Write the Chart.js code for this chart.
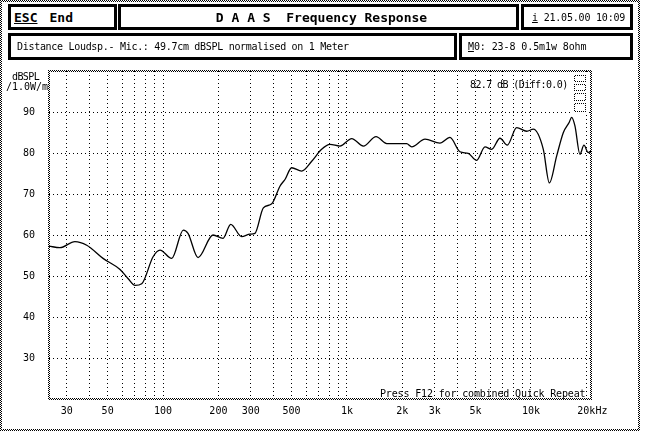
<!DOCTYPE html>
<html>
<head>
<meta charset="utf-8">
<script src="https://cdn.jsdelivr.net/npm/chart.js@4.4.1/dist/chart.umd.min.js"></script>
<style>
  html, body { margin: 0; padding: 0; background: #fff; }
  body { width: 648px; height: 439px; position: relative; overflow: hidden;
         font-family: "DejaVu Sans Mono", monospace; font-size: 10px; color: #000; }
  #chart { position: absolute; left: 0; top: 0; }
  .box { position: absolute; box-sizing: border-box; border: 3px solid #000; background: #fff;
         white-space: pre; display: flex; align-items: center; }
  .lbl { position: absolute; white-space: pre; line-height: 10px; }
</style>
</head>
<body>
<canvas id="chart" width="648" height="439"></canvas>

<div class="box" style="left:8px;top:4px;width:109px;height:26px;padding-left:3px;font-weight:bold;font-size:13px;"><u>ESC</u><span style="margin-left:12px">End</span></div>
<div class="box" style="left:118px;top:4px;width:401px;height:26px;justify-content:center;font-weight:bold;font-size:13px;padding-left:6px;">D A A S  Frequency Response</div>
<div class="box" style="left:521px;top:4px;width:112px;height:26px;padding-left:8px;letter-spacing:-0.2px;"><u>i</u> 21.05.00 10:09</div>
<div class="box" style="left:8px;top:33px;width:449px;height:27px;padding-left:6px;letter-spacing:-0.3px;">Distance Loudsp.- Mic.: 49.7cm dBSPL normalised on 1 Meter</div>
<div class="box" style="left:459px;top:33px;width:174px;height:27px;padding-left:6px;letter-spacing:-0.1px;"><u>M</u>0: 23-8 0.5m1w 8ohm</div>

<div class="lbl" style="left:12px;top:72px;letter-spacing:-0.6px;">dBSPL</div>
<div class="lbl" style="left:6px;top:82px;">/1.0W/m</div>
<div class="lbl" style="left:470px;top:80px;letter-spacing:-0.6px;">82.7 dB (Diff:0.0)</div>
<div class="lbl" style="left:380px;top:389px;letter-spacing:-0.15px;">Press F12 for combined Quick Repeat</div>

<script>
// frequency response (Hz / dB SPL)
const freqHz = [24, 27.5, 33.2, 38.5, 47.2, 58.4, 64.5, 70.5, 76.6, 88.3, 96.3, 111.5, 128.9, 136.7, 155, 186.9,
  211.9, 233.3, 267.6, 297, 316, 351, 390, 432, 461, 500, 567, 643, 728, 808, 916, 1061, 1227, 1439, 1644,
  2110, 2248, 2655, 3201, 3628, 4111, 4563, 5070, 5623, 6113, 6786, 7432, 8365, 9480, 10300, 11670, 12590,
  13800, 15000, 16150, 16640, 17340, 18460, 19410, 20480, 21200];
const splDb = [57.3, 56.9, 58.4, 57.5, 54.3, 51.6, 49.4, 47.7, 48.1, 54.7, 56.3, 54.3, 61.2, 60.4, 54.5, 60.0,
  59.2, 62.6, 59.6, 60.2, 60.4, 66.6, 67.6, 71.9, 73.6, 76.4, 75.6, 78.0, 80.9, 82.1, 81.7, 83.5, 81.7, 84.0, 82.3,
  82.3, 81.5, 83.4, 82.4, 83.8, 80.3, 79.9, 78.2, 81.5, 80.9, 83.6, 81.9, 86.2, 85.3, 85.8, 80.9, 72.7,
  79.3, 85.0, 87.5, 88.7, 86.6, 79.7, 81.9, 80.1, 80.5];

// x grid lines and the labels shown under some of them
const xGridTicks = [30, 40, 50, 60, 70, 80, 90, 100, 200, 300, 400, 500, 600, 700, 800, 900,
  1000, 2000, 3000, 4000, 5000, 6000, 7000, 8000, 9000, 10000, 20000];
const xLabelValues = [30, 50, 100, 200, 300, 500, 1000, 2000, 3000, 5000, 10000, 20000];
const xLabelTexts = ['30', '50', '100', '200', '300', '500', '1k', '2k', '3k', '5k', '10k', '  20kHz'];
const yTicks = [30, 40, 50, 60, 70, 80, 90];

const frame = {
  id: 'frame',
  afterDraw(chart) {
    const c = chart.ctx;
    const pc = document.createElement('canvas');
    pc.width = 2; pc.height = 2;
    const p = pc.getContext('2d');
    p.fillStyle = '#000';
    p.fillRect(0, 0, 1, 1);
    p.fillRect(1, 1, 1, 1);
    const pat = c.createPattern(pc, 'repeat');
    const a = chart.chartArea;
    const ring = (x, y, w, h, t) => {
      c.fillRect(x, y, w, t);
      c.fillRect(x, y + h - t, w, t);
      c.fillRect(x, y, t, h);
      c.fillRect(x + w - t, y, t, h);
    };
    c.save();
    c.fillStyle = pat;
    ring(0, 0, 640, 431, 2);
    ring(Math.round(a.left) - 1, Math.round(a.top) - 1, Math.round(a.right - a.left) + 2, Math.round(a.bottom - a.top) + 2, 2);
    // little stacked markers in the top right corner
    c.fillStyle = '#fff';
    c.fillRect(573, 74, 14, 39);
    c.fillStyle = pat;
    [[574, 75, 12, 7], [574, 84, 12, 7], [574, 93, 12, 8], [574, 103, 12, 9]].forEach(r => ring(r[0], r[1], r[2], r[3], 1));
    c.restore();
  }
};

const ctx = document.getElementById('chart').getContext('2d');
new Chart(ctx, {
  type: 'line',
  data: {
    datasets: [{
      data: freqHz.map((f, i) => ({ x: f, y: splDb[i] })),
      borderColor: '#000',
      borderWidth: 1.3,
      pointRadius: 0,
      fill: false,
      cubicInterpolationMode: 'monotone'
    }]
  },
  options: {
    responsive: false,
    animation: false,
    devicePixelRatio: 1,
    layout: { padding: { top: 71, right: 57, left: 0, bottom: 0 } },
    plugins: { legend: { display: false }, tooltip: { enabled: false } },
    scales: {
      x: {
        type: 'logarithmic',
        min: 24,
        max: 21200,
        afterBuildTicks: scale => { scale.ticks = xGridTicks.map(v => ({ value: v })); },
        afterFit: scale => { scale.height = 40; },
        grid: { color: '#000', lineWidth: 1, drawTicks: false },
        border: { display: false, dash: [1, 3] },
        ticks: {
          autoSkip: false,
          maxRotation: 0,
          padding: 6,
          color: '#000',
          font: { family: 'DejaVu Sans Mono', size: 10 },
          callback: v => {
            const i = xLabelValues.indexOf(v);
            return i >= 0 ? xLabelTexts[i] : '';
          }
        }
      },
      y: {
        min: 20,
        max: 100,
        afterBuildTicks: scale => { scale.ticks = yTicks.map(v => ({ value: v })); },
        afterFit: scale => { scale.width = 49; },
        grid: { color: '#000', lineWidth: 1, drawTicks: false },
        border: { display: false, dash: [1, 3] },
        ticks: {
          padding: 14,
          color: '#000',
          font: { family: 'DejaVu Sans Mono', size: 10 }
        }
      }
    }
  },
  plugins: [frame]
});
</script>
</body>
</html>
